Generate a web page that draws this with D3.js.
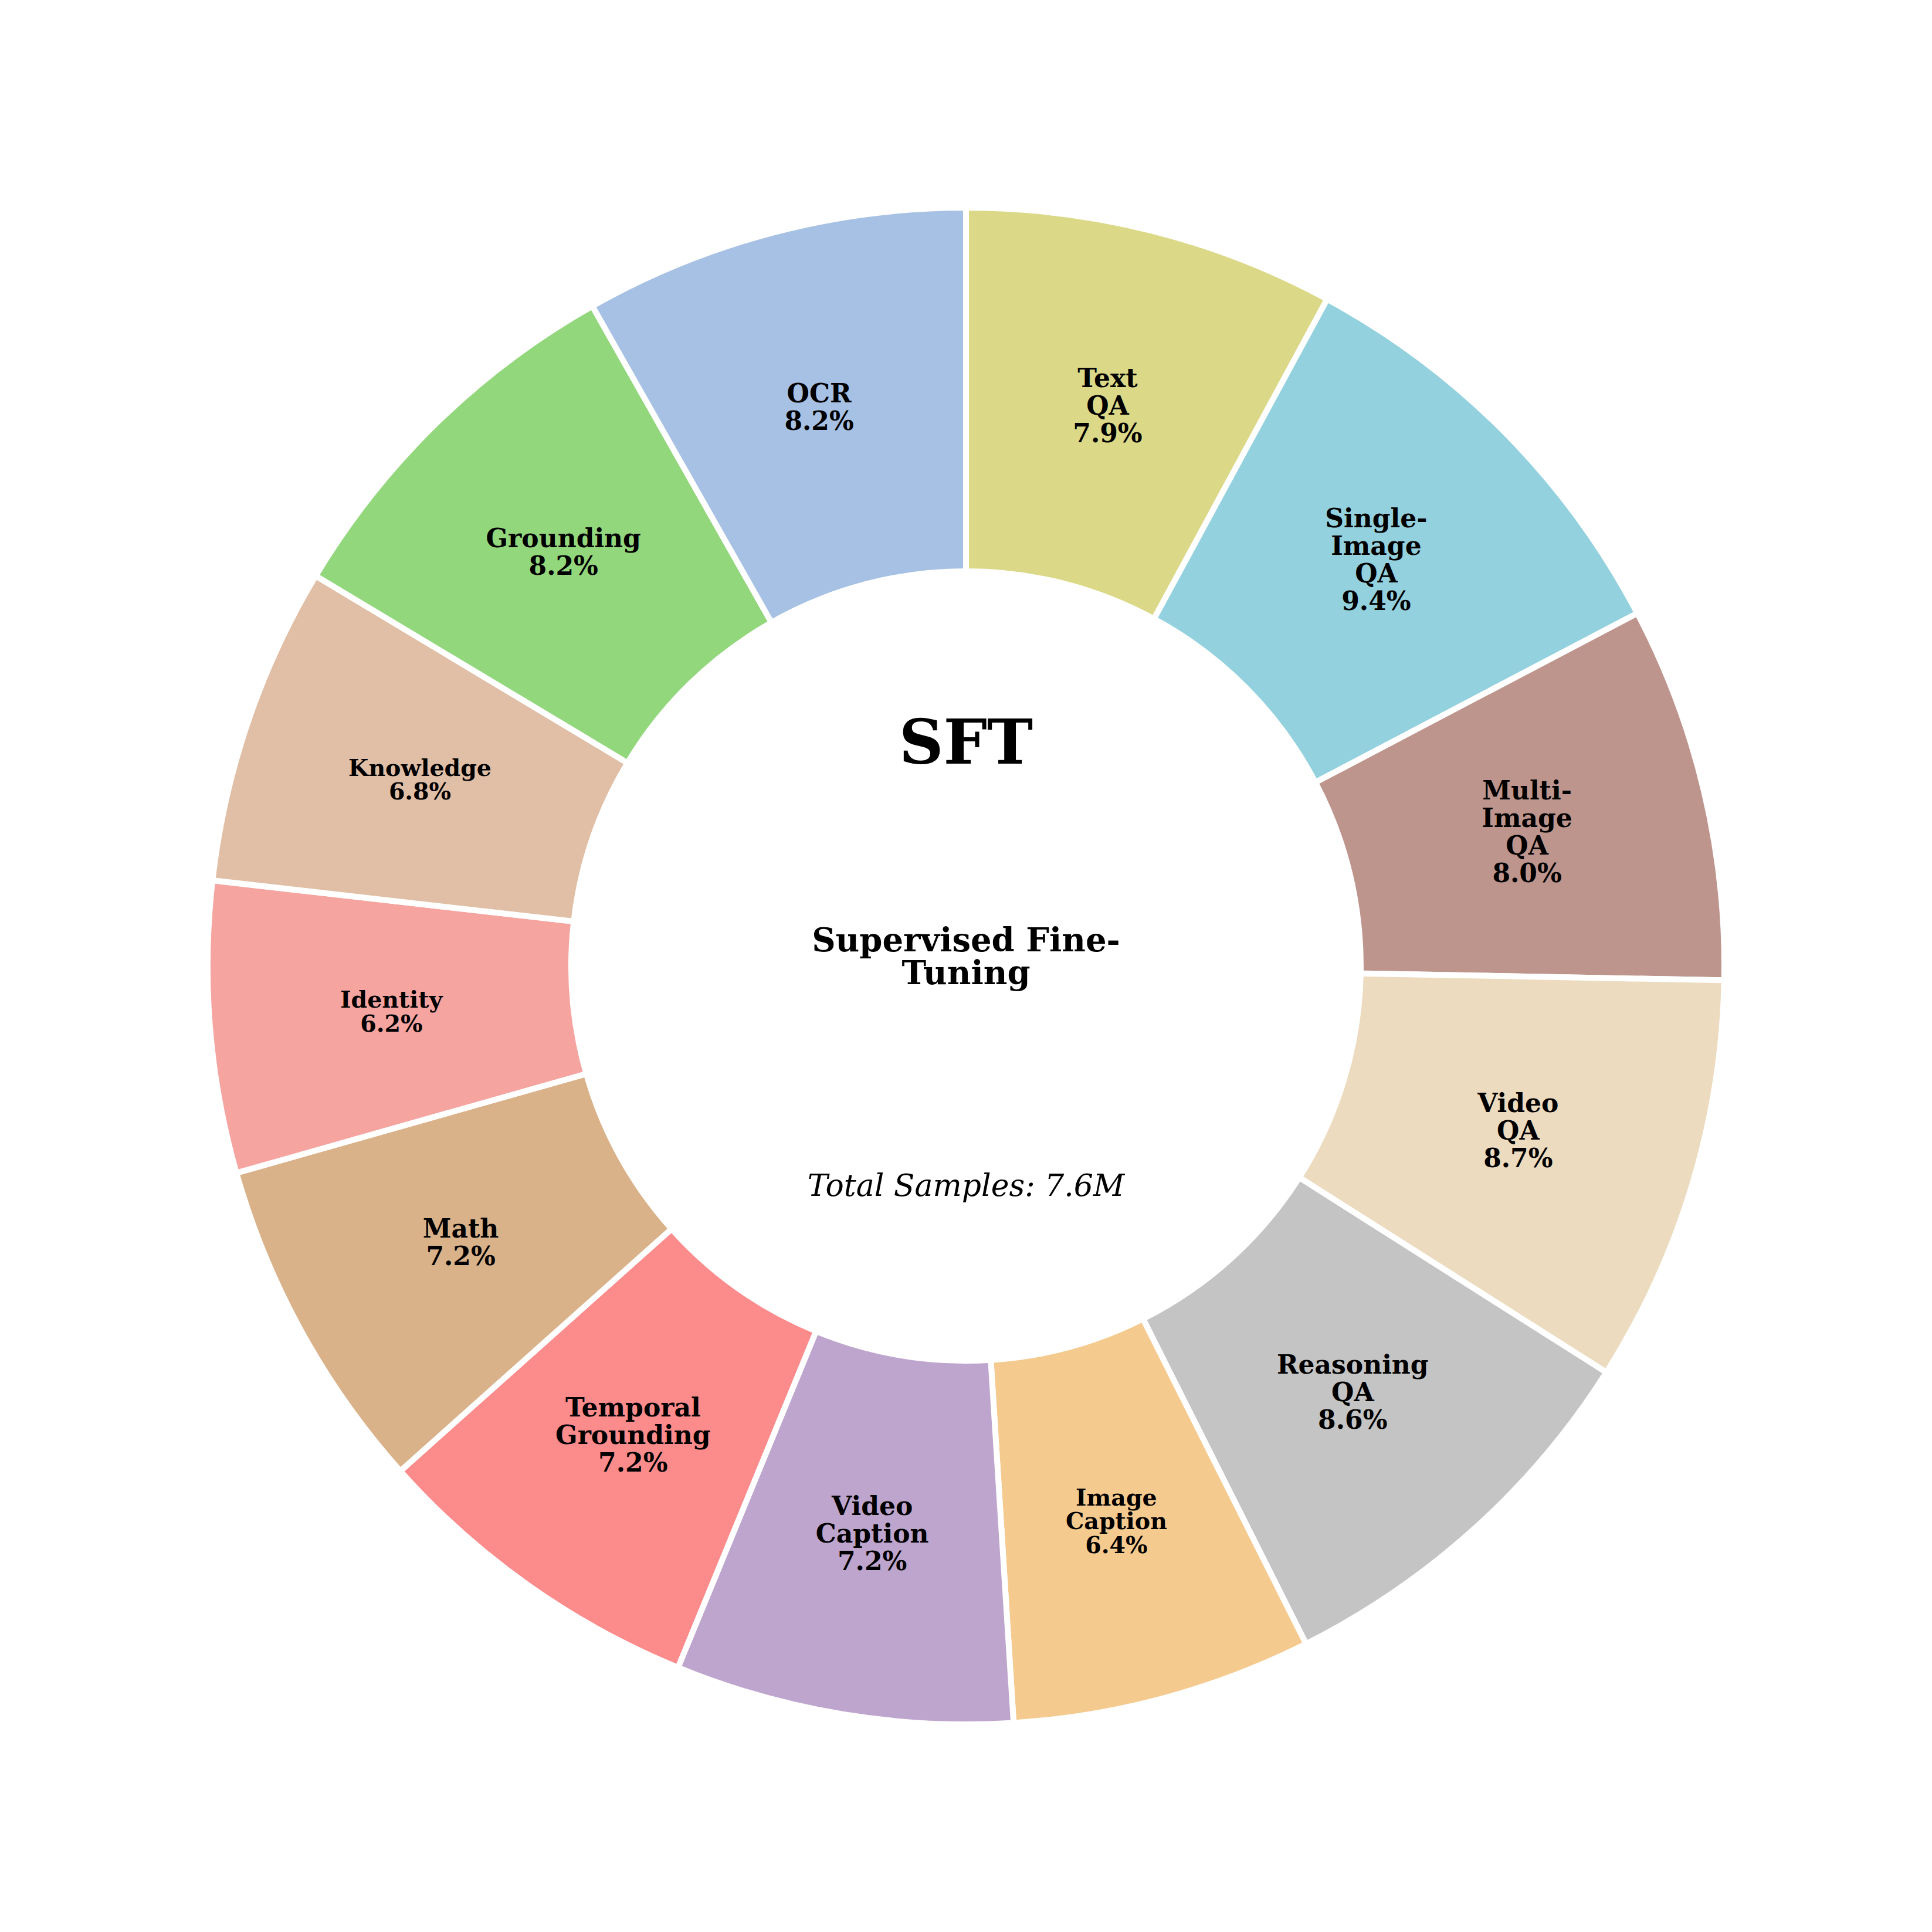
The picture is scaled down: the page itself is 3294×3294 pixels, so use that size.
<!DOCTYPE html>
<html>
<head>
<meta charset="utf-8">
<script src="https://cdn.jsdelivr.net/npm/d3@7/dist/d3.min.js"></script>
<style>
  html, body { margin: 0; padding: 0; background: #ffffff; }
  svg { display: block; }
</style>
</head>
<body>
<script>
// ---- data ----
const categories = ["Text QA", "Single-Image QA", "Multi-Image QA", "Video QA", "Reasoning QA",
  "Image Caption", "Video Caption", "Temporal Grounding", "Math", "Identity", "Knowledge",
  "Grounding", "OCR"];
const shares = [7.9, 9.4, 8.0, 8.7, 8.6, 6.4, 7.2, 7.2, 7.2, 6.2, 6.8, 8.2, 8.2];
const sliceColors = ["#dbd987", "#93d1de", "#be958d", "#ecdbbf", "#c4c4c4", "#f5ca8e",
  "#bea5cd", "#fc8b8c", "#d9b28a", "#f5a4a0", "#e1bfa6", "#93d77d", "#a7c1e4"];
const centerTitle = "SFT";
const centerSubtitle = ["Supervised Fine-", "Tuning"];
const totalText = "Total Samples: 7.6M";

// ---- layout ----
const W = 3294, H = 3294;
const cx = W / 2, cy = H / 2;
const outerR = 1293, innerR = 673;
const labelR = (outerR + innerR) / 2;

const svg = d3.select("body").append("svg")
  .attr("width", W).attr("height", H)
  .attr("viewBox", `0 0 ${W} ${H}`);
svg.append("rect").attr("width", W).attr("height", H).attr("fill", "#ffffff");

const g = svg.append("g").attr("transform", `translate(${cx},${cy})`);

const data = categories.map((c, i) => ({ name: c, value: shares[i], color: sliceColors[i] }));
const pie = d3.pie().value(d => d.value).sort(null).startAngle(0).endAngle(2 * Math.PI);
const arcs = pie(data);
const arc = d3.arc().innerRadius(innerR).outerRadius(outerR);
const labelArc = d3.arc().innerRadius(labelR).outerRadius(labelR);

g.selectAll("path.slice").data(arcs).enter().append("path")
  .attr("class", "slice")
  .attr("d", arc)
  .attr("fill", d => d.data.color)
  .attr("stroke", "#ffffff")
  .attr("stroke-width", 10)
  .attr("stroke-linejoin", "miter");

function wrapName(name) {
  const out = [];
  name.split(" ").forEach(w => {
    const parts = w.split("-");
    parts.forEach((p, i) => out.push(i < parts.length - 1 ? p + "-" : p));
  });
  return out;
}

const fontFam = "'DejaVu Serif', 'Liberation Serif', serif";

arcs.forEach(d => {
  const [lx, ly] = labelArc.centroid(d);
  const lines = wrapName(d.data.name).concat([d.data.value.toFixed(1) + "%"]);
  const small = d.data.value < 7;
  const fs = small ? 39.5 : 44;
  const ls = small ? 40.5 : 47;
  const n = lines.length;
  const t = g.append("text")
    .attr("text-anchor", "middle")
    .attr("font-family", fontFam)
    .attr("font-weight", "bold")
    .attr("font-size", fs)
    .attr("fill", "#000000");
  lines.forEach((ln, i) => {
    t.append("tspan")
      .attr("x", lx)
      .attr("y", ly + (i - (n - 1) / 2) * ls + 0.29 * fs)
      .text(ln);
  });
});

// ---- center texts ----
svg.append("text")
  .attr("x", cx).attr("y", 1302)
  .attr("text-anchor", "middle")
  .attr("font-family", fontFam)
  .attr("font-weight", "bold")
  .attr("font-size", 105)
  .attr("fill", "#000000")
  .text(centerTitle);

const sub = svg.append("text")
  .attr("text-anchor", "middle")
  .attr("font-family", fontFam)
  .attr("font-weight", "bold")
  .attr("font-size", 56)
  .attr("fill", "#000000");
centerSubtitle.forEach((s, i) => {
  sub.append("tspan").attr("x", cx).attr("y", 1622 + i * 56).text(s);
});

svg.append("text")
  .attr("x", cx).attr("y", 2039)
  .attr("text-anchor", "middle")
  .attr("font-family", fontFam)
  .attr("font-style", "italic")
  .attr("font-size", 52)
  .attr("fill", "#000000")
  .text(totalText);
</script>
</body>
</html>
